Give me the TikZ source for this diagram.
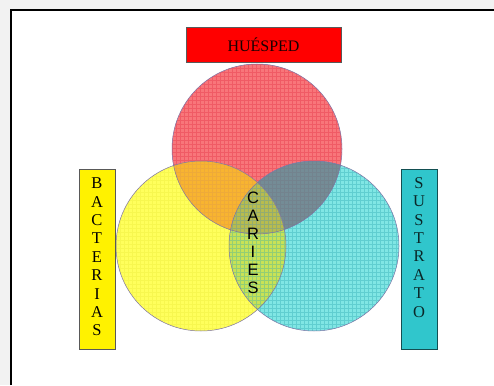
\documentclass[tikz,border=0pt]{standalone}
\usepackage{fontspec}
\setmainfont{Liberation Serif}
\setsansfont{Liberation Sans}
\usetikzlibrary{positioning}
\definecolor{hostred}{RGB}{248,118,122}
\definecolor{hostgrid}{RGB}{228,52,70}
\definecolor{bactyel}{RGB}{255,255,92}
\definecolor{bactgrid}{RGB}{235,235,60}
\definecolor{subscyan}{RGB}{128,230,228}
\definecolor{subsgrid}{RGB}{48,172,178}
\definecolor{hbover}{RGB}{248,180,48}
\definecolor{hsover}{RGB}{116,140,150}
\definecolor{bsover}{RGB}{200,226,86}
\definecolor{allover}{RGB}{184,188,78}
\definecolor{boxcyan}{RGB}{48,198,204}
\definecolor{rimgray}{RGB}{125,115,165}
\newcommand{\circHost}{(host) circle (85pt)}
\newcommand{\circBact}{(bact) circle (85pt)}
\newcommand{\circSubs}{(subs) circle (85pt)}
\tikzset{
  labelbox/.style={draw=black!65,line width=0.6pt,minimum width=36pt,minimum height=180pt,inner sep=0pt},
  stack/.style={inner sep=0pt,align=center,font=\fontsize{16.5}{18.4}\selectfont}
}
\begin{document}
\begin{tikzpicture}[x=1pt,y=-1pt]
  \useasboundingbox (0,0) rectangle (494,385);
  \fill[black!5] (0,0) rectangle (494,385);
  \fill[white] (11,10) rectangle (494,385);
  \draw[black,line width=2pt] (11,385) -- (11,10) -- (494,10);
  \coordinate (host) at (257,149);
  \coordinate (bact) at (201,246);
  \coordinate (subs) at (314,246);
  % base fills
  \fill[hostred] \circHost; \fill[bactyel] \circBact; \fill[subscyan] \circSubs;
  % overlaps
  \begin{scope}\clip \circHost; \fill[hbover] \circBact; \fill[hsover] \circSubs; \end{scope}
  \begin{scope}\clip \circBact; \fill[bsover] \circSubs; \end{scope}
  \begin{scope}\clip \circHost; \clip \circBact; \fill[allover] \circSubs; \end{scope}
  % grids
  \begin{scope}\clip \circHost; \draw[hostgrid,line width=0.45pt,opacity=0.4,step=4pt] (170,60) grid (346,238); \end{scope}
  \begin{scope}\clip \circBact; \draw[bactgrid,line width=0.45pt,opacity=0.4,step=4pt] (114,158) grid (290,334); \end{scope}
  \begin{scope}\clip \circSubs; \draw[subsgrid,line width=0.45pt,opacity=0.4,step=4pt] (226,158) grid (402,334); \end{scope}
  \draw[rimgray,line width=0.5pt] \circHost; \draw[rimgray,line width=0.5pt] \circBact; \draw[rimgray,line width=0.5pt] \circSubs;
  % label boxes
  \node[draw=black!65,line width=0.6pt,fill=red,minimum width=155pt,minimum height=35pt,font=\fontsize{16}{18}\selectfont,text=black!90!red] (hosp) at (263.5,44.5) {HUÉSPED};
  \node[labelbox,fill=yellow] (bactbox) at (97,259) {};
  \node[labelbox,fill=boxcyan,draw=black!60!boxcyan] (subsbox) at (419,259.5) {};
  \node[stack,below=9pt of bactbox.north] (bactlbl) {B\\A\\C\\T\\E\\R\\I\\A\\S};
  \node[stack,below=8pt of subsbox.north,text=black!80!boxcyan] (subslbl) {S\\U\\S\\T\\R\\A\\T\\O};
  \node[stack,font=\sffamily\fontsize{16.5}{18}\selectfont,anchor=north] (carlbl) at (253,192) {C\\A\\R\\I\\E\\S};
\end{tikzpicture}
\end{document}
